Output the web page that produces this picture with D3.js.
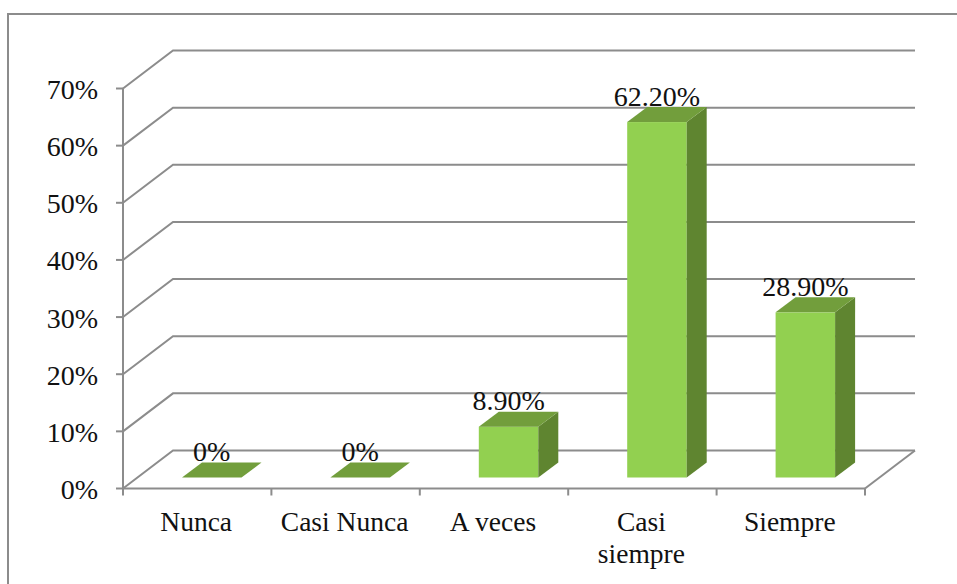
<!DOCTYPE html>
<html>
<head>
<meta charset="utf-8">
<script src="https://cdn.jsdelivr.net/npm/d3@7"></script>
<style>
  html, body { margin: 0; padding: 0; background: #fff; overflow: hidden; }
  text { font-family: "Liberation Serif", serif; fill: #111; }
</style>
</head>
<body>
<div id="chart"></div>
<script>
// Data
const categories = ['Nunca', 'Casi Nunca', 'A veces', 'Casi siempre', 'Siempre'];
const values = [0, 0, 8.9, 62.2, 28.9];
const valueLabels = ['0%', '0%', '8.90%', '62.20%', '28.90%'];
const yTicks = [0, 10, 20, 30, 40, 50, 60, 70];

// Set up dimensions
const width = 957;
const height = 584;
const gridColor = '#8c8c8c';

const svg = d3.select('#chart')
    .append('svg')
    .attr('width', width)
    .attr('height', height)
    .style('display', 'block');

const line = d3.line();

// Outer frame, cropped at the right and bottom of the picture
svg.append('path')
    .attr('d', line([[8, 584], [8, 14], [957, 14]]))
    .attr('fill', 'none')
    .attr('stroke', gridColor)
    .attr('stroke-width', 2);

// Scales
const x = d3.scaleBand().domain(categories).range([123, 865]);
const y = d3.scaleLinear().domain([0, 70]).range([488.5, 88.5]);
const barH = d3.scaleLinear().domain([0, 70]).range([0, 400]);

// Depth of the 3d floor and of the bars
const depthX = 50, depthY = -38;
const barDepthX = 20, barDepthY = -15;
const barWidth = 59.5;
const barInsetX = 59, barBaseY = 477.5;

// Walls: gridlines
const grid = svg.append('g')
    .attr('fill', 'none')
    .attr('stroke', gridColor)
    .attr('stroke-width', 2);

yTicks.forEach(t => {
    grid.append('path').attr('d', line([
        [123, y(t)],
        [123 + depthX, y(t) + depthY],
        [865 + depthX, y(t) + depthY]
    ]));
});

// Floor right edge and the front axes
grid.append('path').attr('d', line([[865, y(0)], [865 + depthX, y(0) + depthY]]));
grid.append('path').attr('d', line([[123, y(0)], [865, y(0)]]));
grid.append('path').attr('d', line([[123, y(70)], [123, y(0)]]));

// Tick marks
yTicks.forEach(t => {
    grid.append('path').attr('d', line([[116, y(t)], [123, y(t)]]));
});
categories.forEach(c => {
    grid.append('path').attr('d', line([[x(c), y(0)], [x(c), y(0) + 7]]));
});
grid.append('path').attr('d', line([[865, y(0)], [865, y(0) + 7]]));

// Bars
const bars = svg.append('g')
    .selectAll('g')
    .data(categories)
    .enter()
    .append('g');

bars.each(function(c, i) {
    const g = d3.select(this);
    const x0 = x(c) + barInsetX;
    const x1 = x0 + barWidth;
    const yTop = barBaseY - barH(values[i]);

    // front
    if (values[i] > 0) {
        g.append('rect')
            .attr('x', x0)
            .attr('y', yTop)
            .attr('width', barWidth)
            .attr('height', barBaseY - yTop)
            .attr('fill', '#92d050');
        // side
        g.append('path')
            .attr('d', line([
                [x1, yTop],
                [x1 + barDepthX, yTop + barDepthY],
                [x1 + barDepthX, barBaseY + barDepthY],
                [x1, barBaseY]
            ]) + 'Z')
            .attr('fill', '#5f8530');
    }
    // top
    g.append('path')
        .attr('d', line([
            [x0, yTop],
            [x0 + barDepthX, yTop + barDepthY],
            [x1 + barDepthX, yTop + barDepthY],
            [x1, yTop]
        ]) + 'Z')
        .attr('fill', '#729e3c');
});

// Y axis labels
svg.append('g')
    .selectAll('text')
    .data(yTicks)
    .enter()
    .append('text')
    .attr('x', 98)
    .attr('y', d => y(d) + 10.5)
    .attr('text-anchor', 'end')
    .style('font-size', '28px')
    .text(d => d + '%');

// Value labels
svg.append('g')
    .selectAll('text')
    .data(categories)
    .enter()
    .append('text')
    .attr('x', d => x(d) + barInsetX + barWidth / 2)
    .attr('y', (d, i) => barBaseY - barH(values[i]) - 16.5)
    .attr('text-anchor', 'middle')
    .style('font-size', '28px')
    .text((d, i) => valueLabels[i]);

// Category labels, wrapped in two lines where the band is too narrow
const catLabels = svg.append('g')
    .selectAll('text')
    .data(categories)
    .enter()
    .append('text')
    .attr('text-anchor', 'middle')
    .style('font-size', '27.5px');

catLabels.each(function(c) {
    const lines = c === 'Casi siempre' ? c.split(' ') : [c];
    d3.select(this).selectAll('tspan')
        .data(lines)
        .enter()
        .append('tspan')
        .attr('x', x(c) + x.bandwidth() / 2 - 1)
        .attr('y', (d, i) => 531 + i * 32)
        .text(d => d);
});
</script>
</body>
</html>
